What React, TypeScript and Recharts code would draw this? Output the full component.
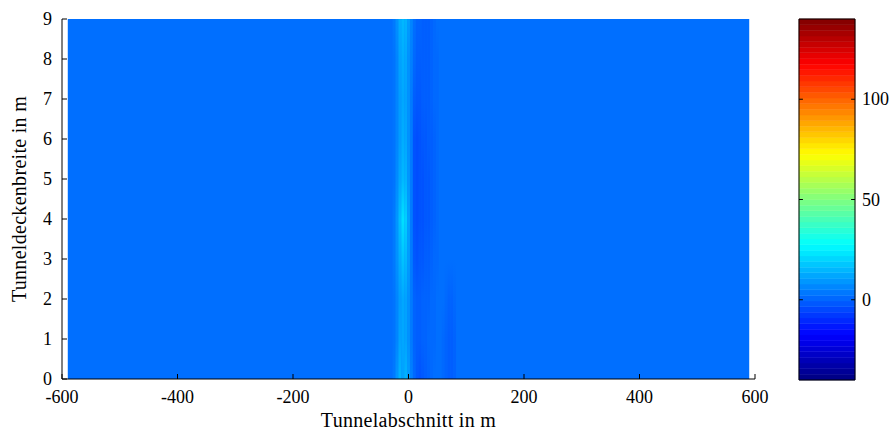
import React from "react";
import { ComposedChart, XAxis, YAxis, ReferenceArea, ReferenceLine, Scatter } from "recharts";

// axes
const X_TICKS = [-600, -400, -200, 0, 200, 400, 600];
const Y_TICKS = [0, 1, 2, 3, 4, 5, 6, 7, 8, 9];
const CB_TICKS = [0, 50, 100];
const CB_RANGE = [-40, 140];

// field extent and the background level
const FIELD_X = [-590, 590];
const FIELD_Y = [0, 9];
const BASE_VALUE = 2;

// rows (m) where values were read, and column centres (m) around the tunnel section
const ROW_Y = [0, 1, 2, 3, 4, 5, 6, 7, 8, 9];
const COL_X = [-30, -25, -20, -15, -10, -5, 0, 5, 10, 15, 20, 25, 30, 35, 40, 45, 50, 55, 60, 65, 70, 75, 80, 85];
// one list per column, values from y=0 up to y=9
const COL_VALUES = [
  [2, 2, 2, 2, 2, 2, 2, 2, 2, 2],
  [4, 3, 3, 4, 4, 3, 3, 3, 3, 4],
  [9, 6, 6, 8, 9, 7, 6, 6, 6, 8],
  [14, 11, 10, 13, 16, 12, 10, 10, 11, 13],
  [11, 12, 12, 17, 22, 15, 13, 12, 13, 15],
  [14, 11, 11, 15, 19, 14, 12, 11, 12, 14],
  [10, 8, 8, 10, 11, 9, 8, 8, 8, 10],
  [5, 4, 4, 4, 4, 4, 4, 4, 5, 6],
  [1, 0, 0, -2, -3, -3, -3, -1, 1, 2],
  [-2, -1, -1, -3, -4, -4, -4, -2, -1, 0],
  [-3, -1, -1, -2, -3, -3, -3, -2, -1, 0],
  [-2, 0, 0, -2, -3, -3, -2, -1, -1, -1],
  [-1, 0, 0, -1, -2, -2, -2, -1, -1, -1],
  [0, 1, 0, -1, -2, -2, -1, -1, -1, -1],
  [1, 1, 1, 0, -1, -1, -1, 0, 0, 0],
  [2, 1, 1, 1, 0, 0, 0, 1, 1, 1],
  [2, 2, 2, 1, 1, 1, 1, 1, 1, 2],
  [2, 2, 2, 2, 2, 2, 2, 2, 2, 2],
  [1, 1, 2, 2, 2, 2, 2, 2, 2, 2],
  [0, 0, 1, 2, 2, 2, 2, 2, 2, 2],
  [-1, -1, 0, 2, 2, 2, 2, 2, 2, 2],
  [-1, -1, 0, 2, 2, 2, 2, 2, 2, 2],
  [0, 0, 1, 2, 2, 2, 2, 2, 2, 2],
  [2, 2, 2, 2, 2, 2, 2, 2, 2, 2],
];

const CB_LEVELS = 64;
const FONT = "'Liberation Serif', serif";

const clamp = (v: number) => Math.max(0, Math.min(1, v));
// matlab jet colormap
function jet(value: number) {
  const t = (value - CB_RANGE[0]) / (CB_RANGE[1] - CB_RANGE[0]);
  const r = clamp(1.5 - Math.abs(4 * t - 3));
  const g = clamp(1.5 - Math.abs(4 * t - 2));
  const b = clamp(1.5 - Math.abs(4 * t - 1));
  return `rgb(${Math.round(r * 255)},${Math.round(g * 255)},${Math.round(b * 255)})`;
}

const colEdges = COL_X.map((x, i) => {
  const left = i === 0 ? x - (COL_X[1] - COL_X[0]) / 2 : (COL_X[i - 1] + x) / 2;
  const right = i === COL_X.length - 1 ? x + (x - COL_X[i - 1]) / 2 : (x + COL_X[i + 1]) / 2;
  return [left, right];
});

// grid points, only to give the axes something to scale
const fieldPoints = COL_X.flatMap((x, i) => ROW_Y.map((y, j) => ({ x, y, v: COL_VALUES[i][j] })));

const cbBands = Array.from({ length: CB_LEVELS }, (_, i) => {
  const step = (CB_RANGE[1] - CB_RANGE[0]) / CB_LEVELS;
  const lo = CB_RANGE[0] + i * step;
  return { lo, hi: lo + step, color: jet(lo + step / 2), x: 0.5, y: lo + step / 2 };
});

const XTick = ({ x, y, payload }: any) => (
  <g>
    <line x1={x} x2={x} y1={y} y2={y - 5} stroke="#000" />
    <text x={x} y={y + 24} textAnchor="middle" fontFamily={FONT} fontSize={18} fill="#000">
      {payload.value}
    </text>
  </g>
);

const YTick = ({ x, y, payload }: any) => (
  <g>
    <line x1={x} x2={x + 5} y1={y} y2={y} stroke="#000" />
    <text x={x - 10} y={y + 6} textAnchor="end" fontFamily={FONT} fontSize={18} fill="#000">
      {payload.value}
    </text>
  </g>
);

const CbTick = ({ x, y, payload }: any) => (
  <text x={x + 7} y={y + 6} textAnchor="start" fontFamily={FONT} fontSize={18} fill="#000">
    {payload.value}
  </text>
);

const labelStyle = { fontFamily: FONT, fontSize: 20, fill: "#000", letterSpacing: 0.3 };

export default function App() {
  return (
    <div style={{ position: "absolute", left: 0, top: 0, width: 893, height: 432, background: "#fff" }}>
      <div style={{ position: "absolute", left: 0, top: 0 }}>
        <ComposedChart width={780} height={432} data={fieldPoints} margin={{ top: 19, right: 25, bottom: 1, left: 0 }}>
          <defs>
            {COL_VALUES.map((vals, i) => (
              <linearGradient key={i} id={`col${i}`} x1="0" y1="1" x2="0" y2="0">
                {vals.map((v, j) => (
                  <stop key={j} offset={(ROW_Y[j] - FIELD_Y[0]) / (FIELD_Y[1] - FIELD_Y[0])} stopColor={jet(v)} />
                ))}
              </linearGradient>
            ))}
          </defs>
          <XAxis
            type="number"
            dataKey="x"
            domain={[X_TICKS[0], X_TICKS[X_TICKS.length - 1]]}
            ticks={X_TICKS}
            interval={0}
            tickLine={false}
            tickSize={0}
            tickMargin={0}
            tick={<XTick />}
            axisLine={{ stroke: "#000" }}
            height={52}
            label={{ value: "Tunnelabschnitt in m", position: "insideBottom", offset: 4, ...labelStyle }}
          />
          <YAxis
            type="number"
            dataKey="y"
            domain={[Y_TICKS[0], Y_TICKS[Y_TICKS.length - 1]]}
            ticks={Y_TICKS}
            interval={0}
            tickLine={false}
            tickSize={0}
            tickMargin={0}
            tick={<YTick />}
            axisLine={{ stroke: "#000" }}
            width={62}
            label={{
              value: "Tunneldeckenbreite in m",
              angle: -90,
              position: "insideLeft",
              offset: 19,
              ...labelStyle,
              style: { textAnchor: "middle" },
            }}
          />
          <Scatter data={fieldPoints} dataKey="y" isAnimationActive={false} shape={() => null} />
          <ReferenceArea
            x1={FIELD_X[0]}
            x2={FIELD_X[1]}
            y1={FIELD_Y[0]}
            y2={FIELD_Y[1]}
            fill={jet(BASE_VALUE)}
            fillOpacity={1}
            stroke="none"
          />
          {colEdges.map(([l, r], i) => (
            <ReferenceArea
              key={i}
              x1={l}
              x2={r + 0.6}
              y1={FIELD_Y[0]}
              y2={FIELD_Y[1]}
              fill={`url(#col${i})`}
              fillOpacity={1}
              stroke="none"
            />
          ))}
        </ComposedChart>
      </div>
      <div style={{ position: "absolute", left: 760, top: 0 }}>
        <ComposedChart width={133} height={432} data={cbBands} margin={{ top: 19, right: 0, bottom: 52, left: 39 }}>
          <XAxis type="number" dataKey="x" domain={[0, 1]} hide />
          <YAxis
            orientation="right"
            type="number"
            dataKey="y"
            domain={CB_RANGE}
            ticks={CB_TICKS}
            interval={0}
            tickLine={false}
            axisLine={false}
            tickSize={0}
            tickMargin={0}
            tick={<CbTick />}
            width={38}
          />
          <Scatter data={cbBands} dataKey="y" isAnimationActive={false} shape={() => null} />
          {cbBands.map((b, i) => (
            <ReferenceArea key={i} x1={0} x2={1} y1={b.lo} y2={b.hi} fill={b.color} fillOpacity={1} stroke={b.color} strokeWidth={0.5} />
          ))}
          <ReferenceArea x1={0} x2={1} y1={CB_RANGE[0]} y2={CB_RANGE[1]} fill="none" stroke="#000" strokeWidth={1} />
          {CB_TICKS.map((t) => (
            <ReferenceLine key={`l${t}`} segment={[{ x: 0, y: t }, { x: 0.07, y: t }]} stroke="#000" />
          ))}
          {CB_TICKS.map((t) => (
            <ReferenceLine key={`r${t}`} segment={[{ x: 0.93, y: t }, { x: 1, y: t }]} stroke="#000" />
          ))}
        </ComposedChart>
      </div>
    </div>
  );
}
